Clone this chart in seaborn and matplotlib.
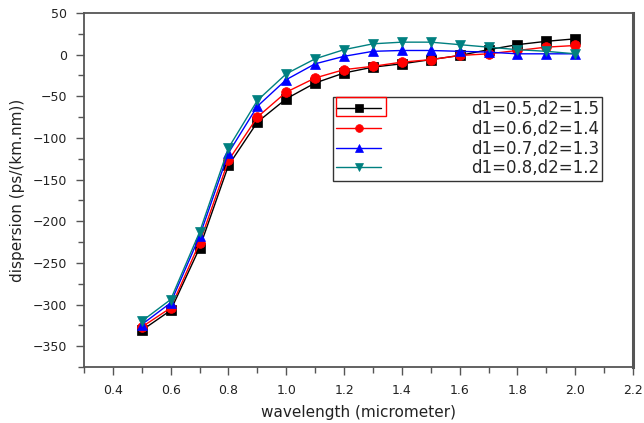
import numpy as np
import pandas as pd
import matplotlib
matplotlib.use("Agg")
import matplotlib.pyplot as plt
import seaborn as sns
from matplotlib.ticker import MultipleLocator
from matplotlib.patches import Rectangle

# wavelength in micrometer
wavelength = [0.5, 0.6, 0.7, 0.8, 0.9, 1.0, 1.1, 1.2, 1.3, 1.4, 1.5, 1.6, 1.7, 1.8, 1.9, 2.0]

# dispersion ps/(km.nm)
disp_05_15 = [-331, -307, -232, -133, -81, -53, -34, -22, -15, -11, -6, -1, 6, 12, 16, 19]
disp_06_14 = [-327, -304, -226, -127, -75, -45, -28, -18, -14, -9, -6, -1, 1, 5, 9, 11]
disp_07_13 = [-324, -298, -218, -118, -62, -30, -11, -2, 4, 5, 5, 4, 3, 1, 1, 1]
disp_08_12 = [-320, -294, -213, -112, -55, -23, -5, 6, 13, 15, 15, 12, 9, 6, 4, 1]

labels = ["d1=0.5,d2=1.5", "d1=0.6,d2=1.4", "d1=0.7,d2=1.3", "d1=0.8,d2=1.2"]
colors = ["#000000", "#ff0000", "#0000ff", "#008080"]
markers = ["s", "o", "^", "v"]

series = [disp_05_15, disp_06_14, disp_07_13, disp_08_12]
df = pd.concat([pd.DataFrame({"wavelength": wavelength, "dispersion": s, "case": lab})
                for s, lab in zip(series, labels)], ignore_index=True)

sns.set_style("ticks")
plt.rcParams["font.family"] = ["DejaVu Sans"]

fig = plt.figure(figsize=(6.44, 4.23), dpi=100)
ax = fig.add_axes([84 / 644, 1 - 367 / 423, 549 / 644, 354 / 423])

sns.lineplot(data=df, x="wavelength", y="dispersion", hue="case", style="case",
             palette=dict(zip(labels, colors)), markers=dict(zip(labels, markers)),
             dashes=False, linewidth=1, markersize=7, legend=False, ax=ax)

# markers drawn solid, no white edge
for line in ax.lines:
    line.set_markeredgecolor(line.get_color())
    line.set_markeredgewidth(0.5)

ax.set_xlim(0.3, 2.2)
ax.set_ylim(-375, 50)
ax.xaxis.set_minor_locator(MultipleLocator(0.1))
ax.yaxis.set_major_locator(MultipleLocator(50))
ax.yaxis.set_minor_locator(MultipleLocator(25))
xt = np.arange(0.4, 2.21, 0.2)
ax.set_xticks(xt)
ax.set_xticklabels([f"{v:.1f}" for v in xt])

for side in ["left", "right", "top", "bottom"]:
    ax.spines[side].set_visible(True)
    ax.spines[side].set_color("#555555")
    ax.spines[side].set_linewidth(1.3)
ax.spines["right"].set_linewidth(2.2)
ax.tick_params(which="major", direction="out", length=6, width=1, color="#555555",
               labelsize=9, labelcolor="#222222", pad=6)
ax.tick_params(which="minor", direction="out", length=4, width=1, color="#555555")

ax.set_xlabel("wavelength (micrometer)", fontsize=11, color="#222222", labelpad=6)
ax.set_ylabel("dispersion (ps/(km.nm))", fontsize=11, color="#222222", labelpad=6)

handles = ax.lines[:4]
leg = ax.legend(handles, labels, loc="upper left", bbox_to_anchor=(0.453, 0.763),
                fontsize=12, frameon=True, fancybox=False, edgecolor="#333333",
                framealpha=1, handlelength=2.7, handletextpad=5.4, borderpad=0.2,
                labelspacing=0.1, borderaxespad=0, markerscale=0.8)
leg.get_frame().set_linewidth(1)

# red selection box around the first legend handle
fig.canvas.draw()
rend = fig.canvas.get_renderer()
fb = leg.get_frame().get_window_extent(rend)
hb = leg.legend_handles[0].get_window_extent(rend)
inv = fig.transFigure.inverted()
(x0, y0), (x1, y1) = inv.transform([[fb.x0 + 3, fb.y1 - 19], [hb.x1 + 1, fb.y1]])
fig.patches.append(Rectangle((x0, y0), x1 - x0, y1 - y0, transform=fig.transFigure,
                             fill=False, edgecolor="#ff0000", linewidth=1))

fig.savefig("out.png", dpi=100)
